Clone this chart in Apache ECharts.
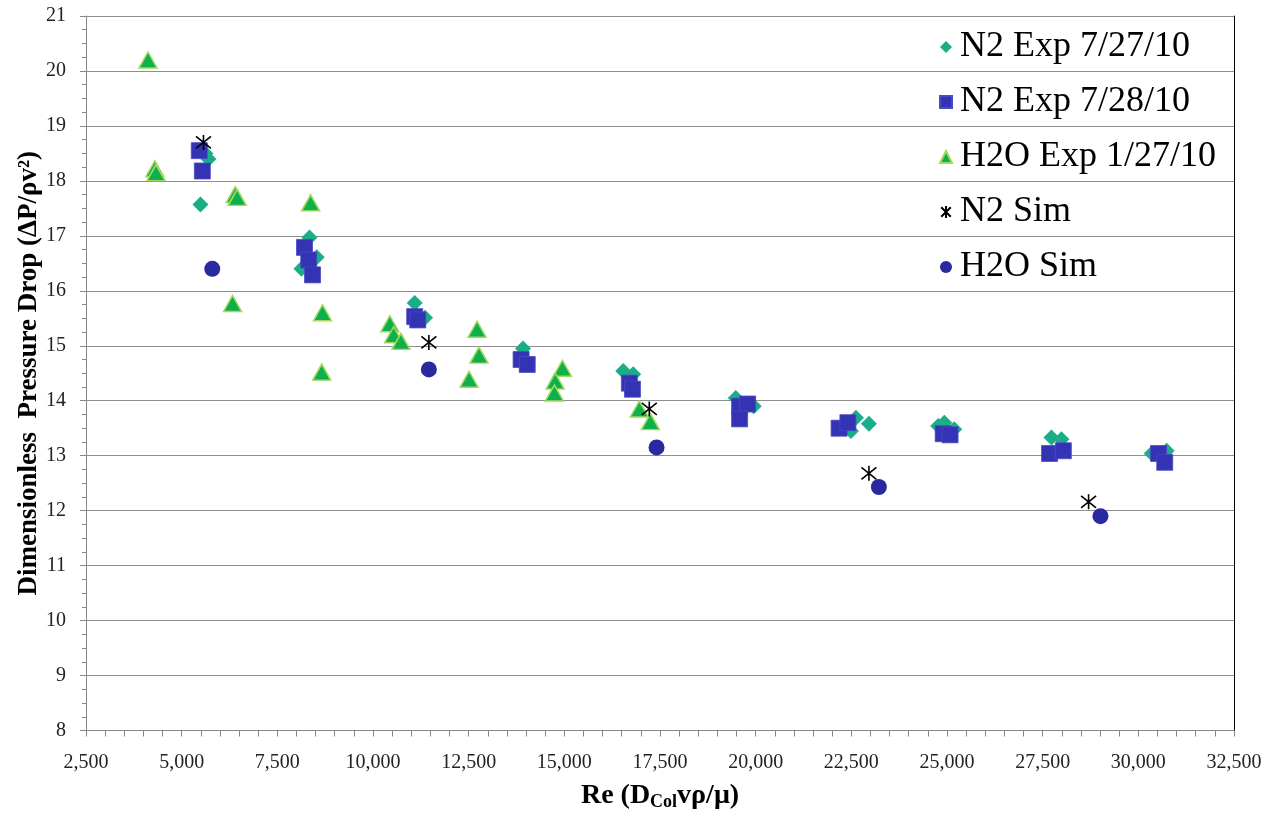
<!DOCTYPE html>
<html lang="en">
<head>
    <meta charset="UTF-8">
    <title>index</title>
    <script src="https://cdn.jsdelivr.net/npm/echarts@6/dist/echarts.min.js"></script>
    <style>
        html, body { margin: 0; padding: 0; background: #fff; }
        #chart { width: 1266px; height: 816px; }
    </style>
</head>
<body>
<div id="chart"></div>
<script>
    // data: [Re, dimensionless pressure drop]
    var n2Exp0727 = [
        [5490, 17.57], [5700, 18.4], [5620, 18.5], [8340, 16.97], [8530, 16.61], [8130, 16.4],
        [11090, 15.78], [11360, 15.51], [13920, 14.95], [16540, 14.54], [16800, 14.48],
        [19480, 14.05], [19950, 13.9], [22620, 13.69], [22960, 13.58], [22490, 13.45],
        [24770, 13.54], [24930, 13.6], [25190, 13.48], [27730, 13.33], [27990, 13.3],
        [30350, 13.04], [30740, 13.09]
    ];
    var n2Exp0728 = [
        [5460, 18.55], [5540, 18.18], [8210, 16.79], [8320, 16.56], [8420, 16.29],
        [11090, 15.53], [11170, 15.47], [13870, 14.75], [14030, 14.66], [16700, 14.32],
        [16780, 14.21], [19580, 13.9], [19790, 13.94], [19580, 13.67], [22180, 13.5],
        [22410, 13.6], [24900, 13.4], [25080, 13.38], [27680, 13.04], [28040, 13.09],
        [30530, 13.04], [30690, 12.88]
    ];
    var h2oExp0127 = [
        [4120, 20.2], [4300, 18.22], [4330, 18.15], [6400, 17.75], [6450, 17.7], [6330, 15.77],
        [8370, 17.6], [8680, 15.6], [8660, 14.52], [10440, 15.4], [10540, 15.2], [10730, 15.08],
        [12720, 15.3], [12770, 14.83], [12510, 14.39], [14950, 14.59], [14760, 14.36],
        [14740, 14.14], [16960, 13.85], [17250, 13.62]
    ];
    var n2Sim = [[5570, 18.7], [11460, 15.06], [17220, 13.85], [22960, 12.68], [28700, 12.16]];
    var h2oSim = [[5800, 16.4], [11460, 14.57], [17410, 13.15], [23220, 12.43], [29010, 11.9]];

    var seriesNames = ['N2 Exp 7/27/10', 'N2 Exp 7/28/10', 'H2O Exp 1/27/10', 'N2 Sim', 'H2O Sim'];

    var serif = '"Liberation Serif", "DejaVu Serif", serif';
    var star = 'path://M1,1L9,9M9,1L1,9M5,0L5,10';

    var my_Chart = echarts.init(document.getElementById('chart'));

    var option = {
        backgroundColor: '#fff',
        animation: false,
        grid: {
            left: 86,
            right: 32,
            top: 16,
            bottom: 79
        },
        legend: {
            orient: 'vertical',
            left: 934,
            top: 22,
            itemWidth: 12,
            itemHeight: 12,
            itemGap: 15,
            data: seriesNames,
            textStyle: {
                fontFamily: serif,
                fontSize: 36,
                lineHeight: 40,
                color: '#000',
                padding: [0, 0, 0, 3]
            }
        },
        xAxis: {
            type: 'value',
            min: 2500,
            max: 32500,
            interval: 2500,
            name: '{a|Re (D}{s|Col}{a|vρ/μ)}',
            nameLocation: 'middle',
            nameGap: 48,
            nameTextStyle: {
                rich: {
                    a: { fontFamily: serif, fontSize: 28, fontWeight: 'bold', color: '#000', lineHeight: 34 },
                    s: { fontFamily: serif, fontSize: 18, fontWeight: 'bold', color: '#000', lineHeight: 34, padding: [13, 0, 0, 0] }
                }
            },
            axisLine: { lineStyle: { color: '#868686', width: 1 } },
            axisTick: { inside: false, length: 6, lineStyle: { color: '#868686' } },
            minorTick: { show: true, splitNumber: 5, length: 6, lineStyle: { color: '#868686' } },
            splitLine: { show: false },
            axisLabel: {
                margin: 22,
                fontFamily: serif,
                fontSize: 20,
                color: '#222',
                formatter: function (v) { return v.toLocaleString('en-US'); }
            }
        },
        yAxis: [{
            type: 'value',
            min: 8,
            max: 21,
            interval: 1,
            name: 'Dimensionless  Pressure Drop (ΔP/ρv²)',
            nameLocation: 'middle',
            nameMoveOverlap: false,
            nameGap: 43,
            nameTextStyle: {
                fontFamily: serif,
                fontSize: 27,
                fontWeight: 'bold',
                color: '#000'
            },
            axisLine: { show: true, lineStyle: { color: '#868686', width: 1 } },
            axisTick: { show: true, inside: false, length: 6, lineStyle: { color: '#868686' } },
            minorTick: { show: true, splitNumber: 4, length: 4, lineStyle: { color: '#868686' } },
            splitLine: { show: true, lineStyle: { color: '#8e8e8e', width: 1.2 } },
            axisLabel: {
                margin: 20,
                fontFamily: serif,
                fontSize: 20,
                color: '#222'
            }
        }, {
            // right border of plot area
            type: 'value',
            position: 'right',
            min: 8,
            max: 21,
            interval: 1,
            axisLine: { show: true, lineStyle: { color: '#000', width: 1 } },
            axisTick: { show: false },
            axisLabel: { show: false },
            splitLine: { show: false }
        }],
        series: [
            {
                name: seriesNames[0],
                type: 'scatter',
                symbol: 'diamond',
                symbolSize: [16, 16],
                itemStyle: { color: '#1aae88', opacity: 1 },
                data: n2Exp0727
            },
            {
                name: seriesNames[1],
                type: 'scatter',
                symbol: 'rect',
                symbolSize: 16,
                itemStyle: { color: '#3333b3', borderColor: '#4a4ac8', borderWidth: 0.8, opacity: 1 },
                data: n2Exp0728
            },
            {
                name: seriesNames[2],
                type: 'scatter',
                symbol: 'triangle',
                symbolSize: [18, 16],
                itemStyle: { color: '#0db04a', borderColor: '#a3d95f', borderWidth: 1.5, opacity: 1 },
                data: h2oExp0127
            },
            {
                name: seriesNames[3],
                type: 'scatter',
                symbol: star,
                symbolSize: 15,
                itemStyle: { color: 'transparent', borderColor: '#000', borderWidth: 1.6, opacity: 1 },
                data: n2Sim
            },
            {
                name: seriesNames[4],
                type: 'scatter',
                symbol: 'circle',
                symbolSize: 16,
                itemStyle: { color: '#2a2aa0', opacity: 1 },
                data: h2oSim
            }
        ]
    };
    my_Chart.setOption(option);
</script>
</body>
</html>
